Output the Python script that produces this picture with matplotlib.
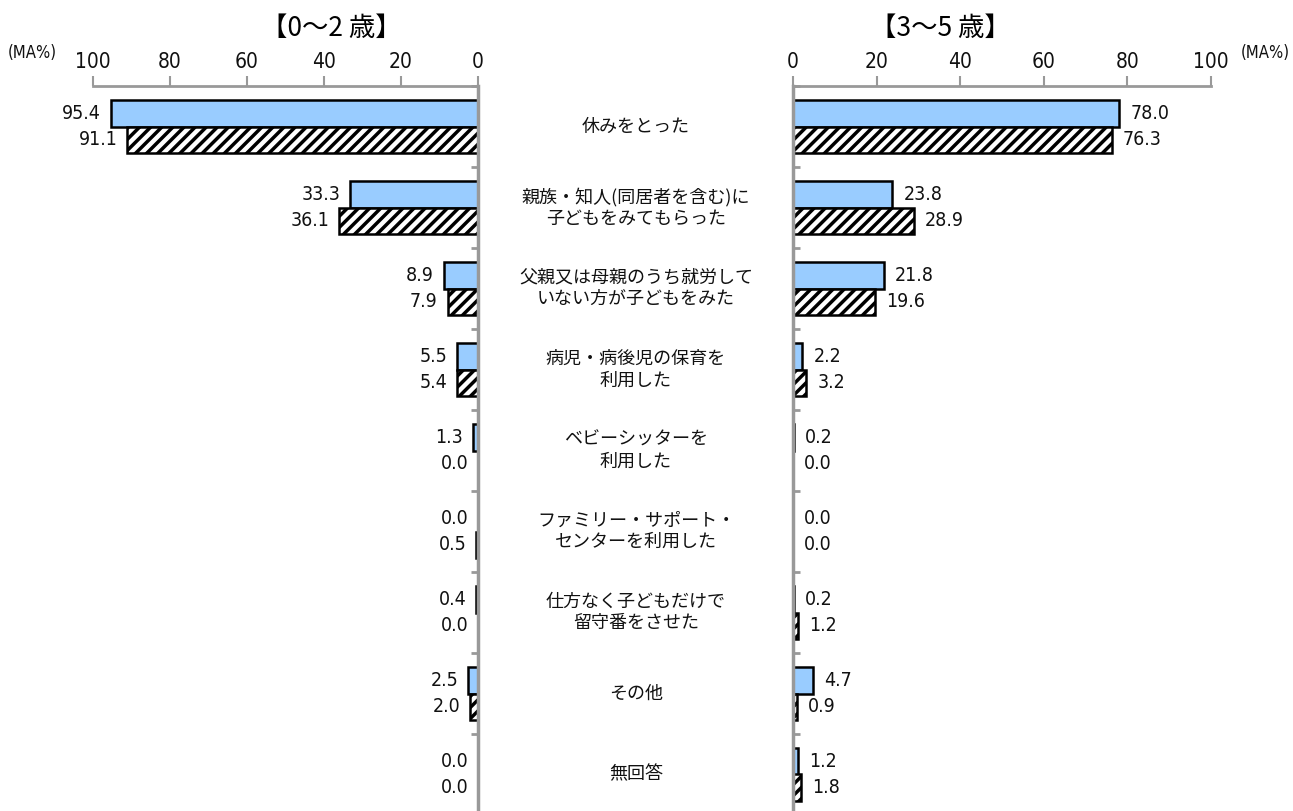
import matplotlib
matplotlib.use("Agg")
import matplotlib.pyplot as plt
import numpy as np

# Data
categories = [
    "休みをとった",
    "親族・知人(同居者を含む)に\n子どもをみてもらった",
    "父親又は母親のうち就労して\nいない方が子どもをみた",
    "病児・病後児の保育を\n利用した",
    "ベビーシッターを\n利用した",
    "ファミリー・サポート・\nセンターを利用した",
    "仕方なく子どもだけで\n留守番をさせた",
    "その他",
    "無回答",
]
age02_blue = [95.4, 33.3, 8.9, 5.5, 1.3, 0.0, 0.4, 2.5, 0.0]
age02_hatch = [91.1, 36.1, 7.9, 5.4, 0.0, 0.5, 0.0, 2.0, 0.0]
age35_blue = [78.0, 23.8, 21.8, 2.2, 0.2, 0.0, 0.2, 4.7, 1.2]
age35_hatch = [76.3, 28.9, 19.6, 3.2, 0.0, 0.0, 1.2, 0.9, 1.8]
ticks = [0, 20, 40, 60, 80, 100]

BLUE = "#99CCFF"
GRAY = "#999999"
TEXT = "#111111"
JP_FONT = ["Noto Sans CJK JP", "DejaVu Sans"]
NUM_PROPS = dict(family=["DejaVu Sans"], stretch="condensed")

plt.rcParams["hatch.linewidth"] = 2.5
plt.rcParams["font.family"] = JP_FONT

W, H = 1293, 811
fig = plt.figure(figsize=(W / 100, H / 100), dpi=100)


def px_axes(x0, x1, y0, y1):
    return fig.add_axes([x0 / W, 1 - y1 / H, (x1 - x0) / W, (y1 - y0) / H])


def draw_side(ax, blue, hatch, left_side):
    y = np.arange(len(categories))
    h = 0.33
    lw_b = [1.8 if v > 0 else 0 for v in blue]
    lw_h = [1.8 if v > 0 else 0 for v in hatch]
    ax.barh(y - h / 2, blue, height=h, color=BLUE, edgecolor="black", linewidth=lw_b)
    ax.barh(y + h / 2, hatch, height=h, color="white", edgecolor="black",
            linewidth=lw_h, hatch="///")
    off = -7 if left_side else 8
    ha = "right" if left_side else "left"
    for yi, vb, vh in zip(y, blue, hatch):
        ax.annotate(f"{vb:.1f}", (vb, yi - h / 2), xytext=(off, 0), textcoords="offset points",
                    ha=ha, va="center", fontsize=14, color=TEXT, **NUM_PROPS)
        ax.annotate(f"{vh:.1f}", (vh, yi + h / 2), xytext=(off, 0), textcoords="offset points",
                    ha=ha, va="center", fontsize=14, color=TEXT, **NUM_PROPS)

    ax.set_ylim(len(categories) - 0.5, -0.5)
    if left_side:
        ax.set_xlim(100, 0)
    else:
        ax.set_xlim(0, 100)
    ax.set_xticks(ticks)
    ax.xaxis.tick_top()
    ax.tick_params(axis="x", direction="out", length=7, width=1.5, color=GRAY,
                   labelsize=15, pad=3)
    for lab in ax.get_xticklabels():
        lab.set_family(NUM_PROPS["family"])
        lab.set_stretch("condensed")
        lab.set_color(TEXT)
    ax.set_yticks(np.arange(len(categories)) - 0.5)
    ax.set_yticklabels([])
    if left_side:
        ax.yaxis.tick_right()
    ax.tick_params(axis="y", direction="in", length=5, width=2, color=GRAY)
    for s in ["top", "bottom", "left", "right"]:
        ax.spines[s].set_visible(False)
    ax.spines["top"].set_visible(True)
    ax.spines["top"].set_color(GRAY)
    ax.spines["top"].set_linewidth(2)
    side = "right" if left_side else "left"
    ax.spines[side].set_visible(True)
    ax.spines[side].set_color(GRAY)
    ax.spines[side].set_linewidth(2.5)
    ax.patch.set_alpha(0)


ax_l = px_axes(93, 478, 86, 815)
draw_side(ax_l, age02_blue, age02_hatch, True)
ax_r = px_axes(793, 1211, 86, 815)
draw_side(ax_r, age35_blue, age35_hatch, False)

# Category labels in the middle
row_h = (815 - 86) / len(categories)
for i, cat in enumerate(categories):
    yc = 86 + row_h * (i + 0.5)
    fig.text(636 / W, 1 - yc / H, cat, ha="center", va="center", fontsize=13,
             color=TEXT, linespacing=1.25)

# Titles and unit labels
fig.text(331 / W, 1 - 28 / H, "【0～2 歳】", ha="center", va="center", fontsize=19, color="black")
fig.text(940 / W, 1 - 28 / H, "【3～5 歳】", ha="center", va="center", fontsize=19, color="black")
fig.text(8 / W, 1 - 53 / H, "(MA%)", ha="left", va="center", fontsize=12,
         color=TEXT, **NUM_PROPS)
fig.text(1290 / W, 1 - 53 / H, "(MA%)", ha="right", va="center", fontsize=12,
         color=TEXT, **NUM_PROPS)

fig.savefig("out.png", dpi=100, facecolor="white")
